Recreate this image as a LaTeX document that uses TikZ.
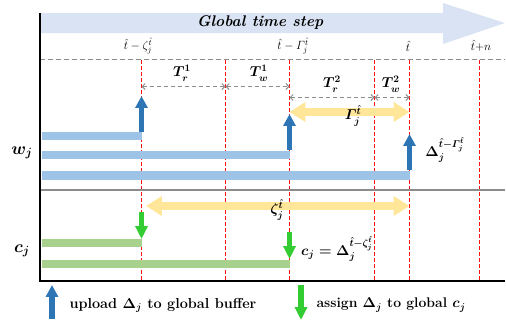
\documentclass[tikz,border=0pt]{standalone}
\usepackage{amsmath,bm}
\usetikzlibrary{arrows.meta}

\definecolor{hdrblue}{HTML}{DAE3F3}
\definecolor{upblue}{HTML}{2E75B6}
\definecolor{barblue}{HTML}{9DC3E6}
\definecolor{bargreen}{HTML}{A9D18E}
\definecolor{asgreen}{HTML}{33CC33}
\definecolor{spanyellow}{HTML}{FFE699}
\definecolor{tred}{HTML}{FF1010}
\definecolor{dgray}{HTML}{8C8C8C}

\tikzset{
  tline/.style={draw=tred,line width=1.2bp,dash pattern=on 4bp off 2bp},
  tspan/.style={draw=dgray,line width=1bp,dash pattern=on 4bp off 3bp,{Straight Barb[length=3pt,width=6pt]}-{Straight Barb[length=3pt,width=6pt]}},
  bigspan/.style={spanyellow,line width=9pt,{Triangle[width=19pt,length=16pt]}-{Triangle[width=19pt,length=16pt]}},
  upload/.style={upblue,line width=6pt,-{Triangle[width=12pt,length=12pt]}},
  assign/.style={asgreen,line width=6pt,-{Triangle[width=12pt,length=13pt]}},
  wbar/.style={barblue,line width=9pt},
  cbar/.style={bargreen,line width=9pt},
}

\begin{document}
\begin{tikzpicture}[x=1bp,y=-1bp]
\useasboundingbox (0,0) rectangle (506,324);

% global time step
\fill[hdrblue] (40,13) -- (443,13) -- (443,3) -- (505,23) -- (443,44) -- (443,33) -- (40,33) -- cycle;
\node (glob) at (260,23) {\fontsize{15.5}{18}\selectfont\bfseries\itshape Global time step};

% time points
\coordinate (tz) at (141.5,60);
\coordinate (ta) at (225.5,60);
\coordinate (tg) at (289.5,60);
\coordinate (tb) at (374.5,60);
\coordinate (th) at (409.5,60);
\coordinate (tn) at (479.5,60);

\draw[draw=dgray,line width=1bp,dash pattern=on 5bp off 3bp] (40,59.5) -- (505,59.5);
\foreach \tp in {tz,ta,tg,tb,th,tn}
  \draw[tline] (\tp) -- (\tp |- 0,280);

\node[font=\large] (lz) at (138,46) {$\hat t-\zeta_j^{\hat t}$};
\node[font=\large] (lg) at (293,46) {$\hat t-\varGamma_j^{\hat t}$};
\node[font=\large] (lh) at (408,46) {$\hat t$};
\node[font=\large] (ln) at (481,46) {$\hat t{+}n$};

% read / write spans
\draw[tspan] (tz |- 0,86.5) -- (ta |- 0,86.5);
\draw[tspan] (ta |- 0,86.5) -- (tg |- 0,86.5);
\draw[tspan] (tg |- 0,97.5) -- (tb |- 0,97.5);
\draw[tspan] (tb |- 0,97.5) -- (th |- 0,97.5);
\node[font=\Large\boldmath] (tr1) at (182,73) {$T_r^1$};
\node[font=\Large\boldmath] (tw1) at (259,73) {$T_w^1$};
\node[font=\Large\boldmath] (tr2) at (332,84) {$T_r^2$};
\node[font=\Large\boldmath] (tw2) at (391,84) {$T_w^2$};

% staleness
\draw[bigspan] (tg |- 0,112) -- (th |- 0,112);
\node[font=\Large\boldmath] (gam) at (353,116) {$\varGamma_j^{\hat t}$};
\draw[bigspan] (146,206) -- (th |- 0,206);
\node[font=\Large\boldmath] (zet) at (277,210) {$\zeta_j^{\hat t}$};

% w_j
\draw[wbar] (42,136) -- (tz |- 0,136);
\draw[wbar] (42,155) -- (tg |- 0,155);
\draw[wbar] (42,175.5) -- (th |- 0,175.5);
\draw[upload] (tz |- 0,132) -- (tz |- 0,96);
\draw[upload] (tg |- 0,150) -- (tg |- 0,114);
\draw[upload] (th |- 0,170) -- (th |- 0,134);
\node[font=\LARGE\boldmath] (wj) at (22,153) {$w_j$};
\node[font=\Large\boldmath] (dg) at (445,150) {$\Delta_j^{\hat t-\varGamma_j^{\hat t}}$};

\draw[dgray,line width=1.2pt] (40,190) -- (505,190);

% c_j
\draw[cbar] (42,243) -- (tz |- 0,243);
\draw[cbar] (42,264) -- (tg |- 0,264);
\draw[assign] (tz |- 0,212) -- (tz |- 0,239);
\draw[assign] (tg |- 0,232) -- (tg |- 0,259);
\node[font=\LARGE\boldmath] (cj) at (22,251) {$c_j$};
\node[font=\Large\boldmath] (cz) at (337,249) {$c_j=\Delta_j^{\hat t-\zeta_j^{\hat t}}$};

% frame
\draw[line width=1.5pt] (40,13) -- (40,281) -- (505,281);

% legend
\draw[upload] (52,319) -- (52,285);
\node[font=\fontsize{14.5}{17}\selectfont\bfseries\boldmath,anchor=west] (lup) at (66,305) {upload $\Delta_j$ to global buffer};
\draw[assign] (301,285) -- (301,320);
\node[font=\fontsize{14}{17}\selectfont\bfseries\boldmath,anchor=west] (las) at (313,305) {assign $\Delta_j$ to global $c_j$};

\end{tikzpicture}
\end{document}
